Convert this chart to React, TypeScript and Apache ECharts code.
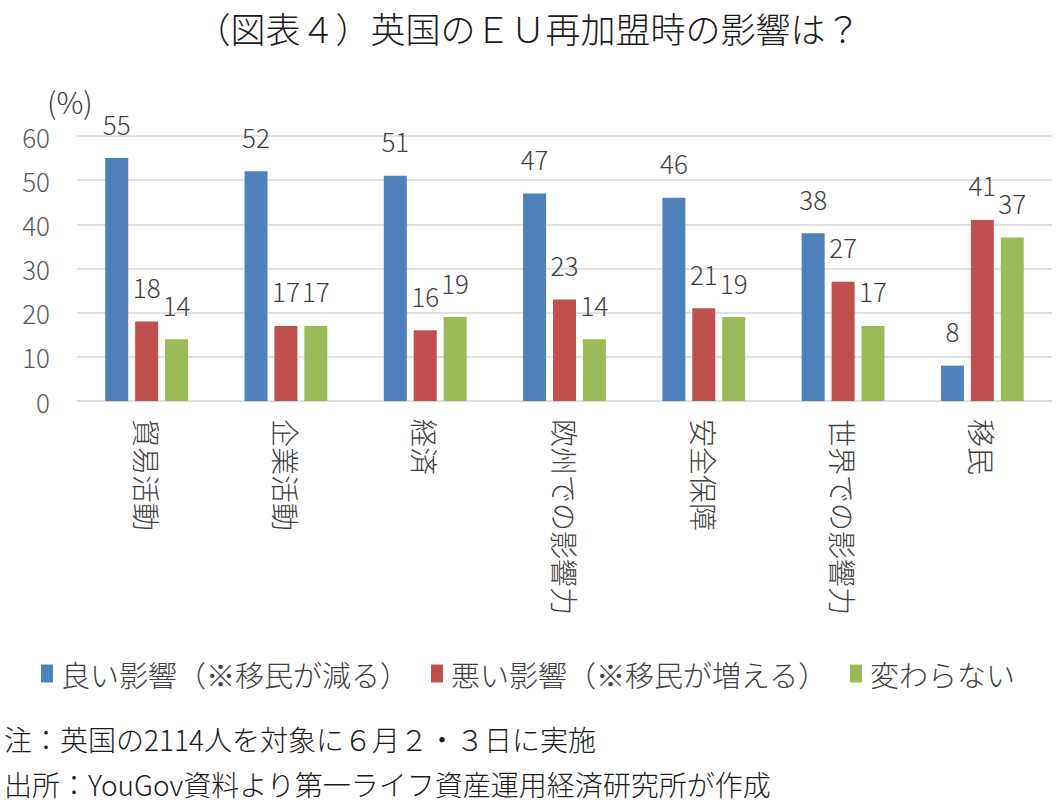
import React, { useEffect, useRef } from "react";
import * as echarts from "echarts";

const categories = ["貿易活動", "企業活動", "経済", "欧州での影響力", "安全保障", "世界での影響力", "移民"];
const seriesNames = ["良い影響（※移民が減る）", "悪い影響（※移民が増える）", "変わらない"];
const goodValues = [55, 52, 51, 47, 46, 38, 8];
const badValues = [18, 17, 16, 23, 21, 27, 41];
const sameValues = [14, 17, 19, 14, 19, 17, 37];
const yTicks = { min: 0, max: 60, interval: 10 };
const titleText = "（図表４）英国のＥＵ再加盟時の影響は？";
const unitText = "(%)";
const noteText = "注：英国の2114人を対象に６月２・３日に実施";
const sourceText = "出所：YouGov資料より第一ライフ資産運用経済研究所が作成";

const FONT = '"Noto Sans CJK JP", "Noto Sans", sans-serif';
const colors = ["#4F81BD", "#C0504D", "#9BBB59"];

export default function App() {
  const ref = useRef<HTMLDivElement>(null);
  useEffect(() => {
    if (!ref.current) return;
    const chart = echarts.init(ref.current, null, { renderer: "svg" });
    const values = [goodValues, badValues, sameValues];
    chart.setOption({
      animation: false,
      backgroundColor: "#ffffff",
      textStyle: { fontFamily: FONT },
      title: {
        text: titleText,
        left: "center",
        top: 5,
        textStyle: { fontFamily: FONT, fontSize: 35, fontWeight: 300, color: "#1a1a1a" },
      },
      legend: {
        data: seriesNames,
        top: 654,
        left: "center",
        icon: "rect",
        itemWidth: 12,
        itemHeight: 18,
        itemGap: 22,
        textStyle: { fontFamily: FONT, fontSize: 29, fontWeight: 300, color: "#404040", padding: [0, 0, 0, 3] },
      },
      grid: { left: 77, right: 4, top: 136, height: 265, containLabel: false },
      xAxis: {
        type: "category",
        data: categories,
        axisLine: { show: true, lineStyle: { color: "#d9d9d9", width: 1.5 } },
        axisTick: { show: false },
        axisLabel: {
          rotate: -90,
          fontFamily: FONT,
          fontSize: 28,
          fontWeight: 300,
          color: "#404040",
          margin: 18,
          interval: 0,
        },
      },
      yAxis: {
        type: "value",
        min: yTicks.min,
        max: yTicks.max,
        interval: yTicks.interval,
        axisLine: { show: false },
        axisTick: { show: false },
        splitLine: { lineStyle: { color: "#d9d9d9", width: 1.5 } },
        axisLabel: { fontFamily: FONT, fontSize: 26, fontWeight: 300, color: "#595959", margin: 27 },
      },
      graphic: [
        { type: "text", left: 47, top: 86, style: { text: unitText, font: `300 30px ${FONT}`, fill: "#404040" } },
        { type: "text", left: 4, top: 725, style: { text: noteText, font: `300 28px ${FONT}`, fill: "#1a1a1a" } },
        { type: "text", left: 4, top: 770, style: { text: sourceText, font: `300 28px ${FONT}`, fill: "#1a1a1a" } },
      ],
      series: seriesNames.map((name, i) => ({
        name,
        type: "bar",
        data: values[i],
        barWidth: 23,
        barGap: "30%",
        itemStyle: { color: colors[i] },
        label: {
          show: true,
          position: "top",
          distance: 22,
          fontFamily: FONT,
          fontSize: 26,
          fontWeight: 300,
          color: "#404040",
        },
      })),
    });
    return () => chart.dispose();
  }, []);
  return <div ref={ref} style={{ position: "fixed", left: 0, top: 0, width: 1056, height: 804 }} />;
}
